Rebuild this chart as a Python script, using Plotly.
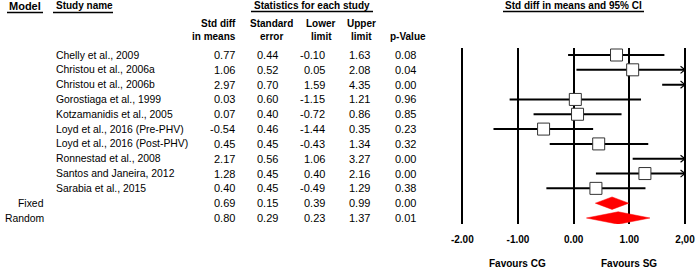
import plotly.graph_objects as go

# ---------------- data ----------------
studies = ["Chelly et al., 2009", "Christou et al., 2006a", "Christou et al., 2006b",
           "Gorostiaga et al., 1999", "Kotzamanidis et al., 2005",
           "Loyd et al., 2016 (Pre-PHV)", "Loyd et al., 2016 (Post-PHV)",
           "Ronnestad et al., 2008", "Santos and Janeira, 2012", "Sarabia et al., 2015"]
smd = [0.77, 1.06, 2.97, 0.03, 0.07, -0.54, 0.45, 2.17, 1.28, 0.40]
se = [0.44, 0.52, 0.70, 0.60, 0.40, 0.46, 0.45, 0.56, 0.45, 0.45]
lower = [-0.10, 0.05, 1.59, -1.15, -0.72, -1.44, -0.43, 1.06, 0.40, -0.49]
upper = [1.63, 2.08, 4.35, 1.21, 0.86, 0.35, 1.34, 3.27, 2.16, 1.29]
pval = [0.08, 0.04, 0.00, 0.96, 0.85, 0.23, 0.32, 0.00, 0.00, 0.38]

models = ["Fixed", "Random"]
model_smd = [0.69, 0.80]
model_se = [0.15, 0.29]
model_lower = [0.39, 0.23]
model_upper = [0.99, 1.37]
model_p = [0.00, 0.01]

tick_vals = [-2, -1, 0, 1, 2]
tick_text = ["-2.00", "-1.00", "0.00", "1.00", "2,00"]
xmin, xmax = -2, 2

# ---------------- layout constants ----------------
W, H = 700, 272
TOP, BOT = 48, 224          # plot area in pixels
FONT = "Liberation Sans"
FS_NUM = 11
FS_NAME = 10.4
FS_HEAD = 10

def py(p):                  # pixel y -> paper y
    return (BOT - p) / (BOT - TOP)

def px(p):                  # pixel x -> paper x (margins l=r=0)
    return p / W

n = len(studies)
rows = list(range(n))
mrows = [n + i for i in range(len(models))]

fig = go.Figure()

# CI lines (clipped to axis)
lx, ly = [], []
for i in rows:
    lx += [max(lower[i], xmin), min(upper[i], xmax), None]
    ly += [i, i, None]
fig.add_trace(go.Scatter(x=lx, y=ly, mode="lines", line=dict(color="black", width=2),
                         hoverinfo="skip", showlegend=False))

# arrows for truncated CIs
ax_, ay_ = [], []
adx, ady = 0.08, 0.24
for i in rows:
    if upper[i] > xmax:
        ax_ += [xmax - adx, xmax, xmax - adx, None]
        ay_ += [i - ady, i, i + ady, None]
    if lower[i] < xmin:
        ax_ += [xmin + adx, xmin, xmin + adx, None]
        ay_ += [i - ady, i, i + ady, None]
fig.add_trace(go.Scatter(x=ax_, y=ay_, mode="lines", line=dict(color="black", width=1.2),
                         hoverinfo="skip", showlegend=False))

# squares
sx = [smd[i] for i in rows if xmin <= smd[i] <= xmax]
sy = [i for i in rows if xmin <= smd[i] <= xmax]
fig.add_trace(go.Scatter(x=sx, y=sy, mode="markers",
                         marker=dict(symbol="square", size=12, color="white",
                                     line=dict(color="#333333", width=1)),
                         hoverinfo="skip", showlegend=False))

# diamonds
dh = 0.42
for j, r in enumerate(mrows):
    fig.add_trace(go.Scatter(
        x=[model_lower[j], model_smd[j], model_upper[j], model_smd[j], model_lower[j]],
        y=[r, r - dh, r, r + dh, r], mode="lines", fill="toself",
        fillcolor="#ff0000", line=dict(color="#ff0000", width=0.5),
        hoverinfo="skip", showlegend=False))

# ---------------- table text ----------------
ann = []
def t(x, y, text, xanchor="left", yref="y", bold=False, size=FS_NUM):
    ann.append(dict(x=x, y=y, xref="paper", yref=yref, text=("<b>%s</b>" % text) if bold else text,
                    showarrow=False, xanchor=xanchor, yanchor="middle",
                    font=dict(family=FONT, size=size, color="black")))

# headers
t(px(25), py(5.5), "Model", "center", "paper", True, 11)
t(px(54), py(5.5), "Study name", "left", "paper", True, FS_HEAD)
t(px(312), py(5.5), "Statistics for each study", "center", "paper", True, FS_HEAD)
t(px(573.5), py(5.5), "Std diff in means and 95% CI", "center", "paper", True, FS_HEAD)
t(px(238), py(24), "Std diff", "right", "paper", True, FS_HEAD)
t(px(238), py(36), "in means", "right", "paper", True, FS_HEAD)
t(px(271.5), py(24), "Standard", "center", "paper", True, FS_HEAD)
t(px(271.5), py(36), "error", "center", "paper", True, FS_HEAD)
t(px(321), py(24), "Lower", "center", "paper", True, FS_HEAD)
t(px(321), py(36), "limit", "center", "paper", True, FS_HEAD)
t(px(361.5), py(24), "Upper", "center", "paper", True, FS_HEAD)
t(px(361.5), py(36), "limit", "center", "paper", True, FS_HEAD)
t(px(408), py(36), "p-Value", "center", "paper", True, FS_HEAD)

def row(r, name, m, s, lo, hi, p, label=""):
    if label:
        t(px(46), r, label, "right", size=FS_NAME)
    if name:
        t(px(54), r, name, "left", size=FS_NAME)
    t(px(237), r, "%.2f" % m, "right")
    t(px(280), r, "%.2f" % s, "right")
    t(px(327), r, "%.2f" % lo, "right")
    t(px(372), r, "%.2f" % hi, "right")
    t(px(418), r, "%.2f" % p, "right")

for i in rows:
    row(i, studies[i], smd[i], se[i], lower[i], upper[i], pval[i])
for j, r in enumerate(mrows):
    row(r, "", model_smd[j], model_se[j], model_lower[j], model_upper[j], model_p[j], models[j])

# favours labels
for xv, txt in [(-1, "Favours CG"), (1, "Favours SG")]:
    ann.append(dict(x=xv, y=py(263), xref="x", yref="paper", text="<b>%s</b>" % txt,
                    showarrow=False, xanchor="center", yanchor="middle",
                    font=dict(family=FONT, size=FS_HEAD, color="black")))

# underlines
shapes = []
for x0, x1, yy in [(7, 43, 12.5), (53, 113, 12.5), (251, 373, 11.5), (503, 644, 11.5)]:
    shapes.append(dict(type="line", xref="paper", yref="paper", x0=px(x0), x1=px(x1),
                       y0=py(yy), y1=py(yy), line=dict(color="black", width=1.5)))

# axis geometry
ppu = (685 - 462.3) / (xmax - xmin)
pad = 0.1
x_left = 462.3 - pad * ppu
x_right = 685 + pad * ppu
row_pitch = (218 - 55) / 11
y_top = -(55 - TOP) / row_pitch
y_bot = (n + len(models) - 1) + (BOT - 218) / row_pitch

fig.update_layout(
    width=W, height=H, margin=dict(l=0, r=0, t=TOP, b=H - BOT, autoexpand=False),
    paper_bgcolor="white", plot_bgcolor="white",
    annotations=ann, shapes=shapes, showlegend=False,
    xaxis=dict(domain=[x_left / W, x_right / W], range=[xmin - pad, xmax + pad],
               tickvals=tick_vals, ticktext=["<b>%s</b>" % s for s in tick_text],
               showgrid=True, gridcolor="black", gridwidth=1.6, zeroline=False,
               showline=False, ticks="", ticklabelstandoff=8, automargin=False,
               tickfont=dict(family=FONT, size=FS_HEAD, color="black"), fixedrange=True),
    yaxis=dict(range=[y_bot, y_top], showgrid=False, zeroline=False, showline=False,
               showticklabels=False, ticks="", fixedrange=True, automargin=False),
)

fig.write_html("out.html", config={"displayModeBar": False},
               post_script="document.body.style.margin='0';document.body.style.padding='0';")
